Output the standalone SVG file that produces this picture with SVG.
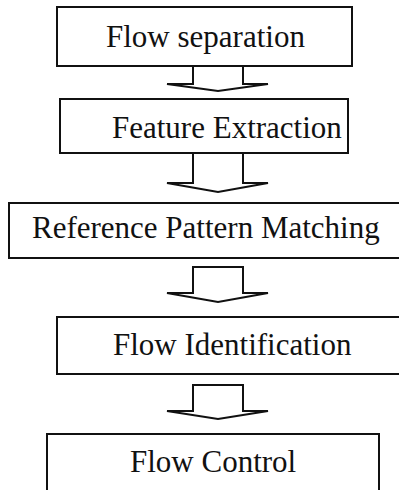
<svg xmlns="http://www.w3.org/2000/svg" width="399" height="490" viewBox="0 0 399 490">
<style>
.box{fill:#fff;stroke:#111;stroke-width:2}
.lbl{font-family:"Liberation Serif","Times New Roman",serif;font-size:31px;fill:#111}
.arr{fill:none;stroke:#111;stroke-width:2;stroke-linejoin:miter}
</style>
<rect width="399" height="490" fill="#fff"/>
<g id="connectors">
<path class="arr" d="M193,66 V84 H167 L218,91 L268,84 H243 V66"/>
<path class="arr" d="M193,153 V183 H167 L218,192 L268,183 H243 V153"/>
<path class="arr" d="M193,267 V293 H167 L218,302 L268,293 H243 V267 Z"/>
<path class="arr" d="M193,385 V411 H167 L218,419 L268,411 H243 V385 Z"/>
</g>
<g id="n1"><rect class="box" x="57" y="7" width="295" height="59"/><text class="lbl" x="106" y="47">Flow separation</text></g>
<g id="n2"><rect class="box" x="60" y="99" width="288" height="54"/><text class="lbl" x="112" y="138">Feature Extraction</text></g>
<g id="n3"><rect class="box" x="9" y="203" width="400" height="55"/><text class="lbl" x="32" y="238">Reference Pattern Matching</text></g>
<g id="n4"><rect class="box" x="57" y="317" width="352" height="57"/><text class="lbl" x="113" y="355">Flow Identification</text></g>
<g id="n5"><rect class="box" x="47" y="434" width="332" height="70"/><text class="lbl" x="130" y="472">Flow Control</text></g>
</svg>
